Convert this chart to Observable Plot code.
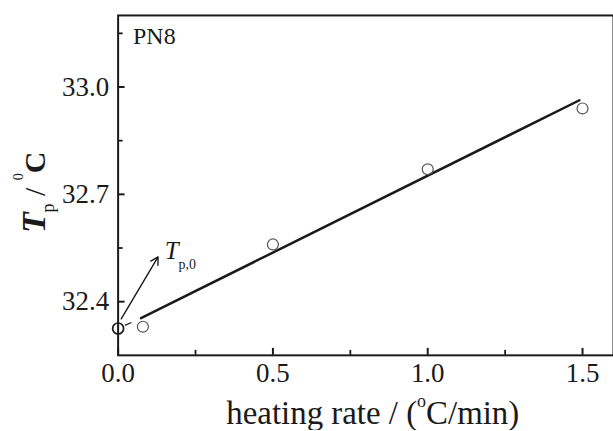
<!DOCTYPE html>
<html><head><meta charset="utf-8">
<script src="https://cdn.jsdelivr.net/npm/d3@7"></script>
<script src="https://cdn.jsdelivr.net/npm/@observablehq/plot@0.6"></script>
<style>
html,body{margin:0;padding:0;background:#fff;overflow:hidden;}
#chart{width:613px;height:431px;overflow:hidden;}
</style></head><body><div id="chart"></div>
<script>
// ---- data ----
const rates = [0.08, 0.5, 1.0, 1.5];            // heating rate (°C/min)
const peakTemps = [32.33, 32.56, 32.77, 32.94]; // Tp (°C)
const fitRates = [0.074, 1.49];                 // fitted line end points
const fitTemps = [32.354, 32.963];
const extrapRates = [0, 0.074];                 // dashed extrapolation
const extrapTemps = [32.325, 32.354];
const tp0Rates = [0];                           // extrapolated Tp,0
const tp0Temps = [32.325];
const arrowRates = [0.01, 0.129];               // annotation arrow
const arrowTemps = [32.352, 32.525];
const labelRate = 0.152, labelTemp = 32.519;    // "Tp,0" label anchor
const xMajorTicks = [0, 0.5, 1.0, 1.5];
const xMinorTicks = [0.25, 0.75, 1.25];
const yMajorTicks = [32.4, 32.7, 33.0];
const yMinorTicks = [32.55, 32.85, 33.15];
const xDomain = [0, 1.6];
const yDomain = [32.25, 33.2];
const sampleLabel = "PN8";

const points = rates.map((r, i) => ({r, t: peakTemps[i]}));
const fit = fitRates.map((r, i) => ({r, t: fitTemps[i]}));
const extrap = extrapRates.map((r, i) => ({r, t: extrapTemps[i]}));
const tp0 = tp0Rates.map((r, i) => ({r, t: tp0Temps[i]}));
const arrow = [{x1: arrowRates[0], y1: arrowTemps[0], x2: arrowRates[1], y2: arrowTemps[1]}];

const FONT = "'Liberation Serif','Times New Roman',serif";
const INK = "#1a1a1a";
const W = 615, H = 431, ML = 118, MR = 0, MT = 15, MB = 75;
const frameW = W - ML - MR, frameH = H - MT - MB;

const plot = Plot.plot({
  width: W, height: H,
  marginLeft: ML, marginRight: MR, marginTop: MT, marginBottom: MB,
  style: {fontFamily: FONT, fontSize: "27px", color: INK, background: "#fff"},
  x: {domain: xDomain},
  y: {domain: yDomain},
  marks: [
    // inward tick marks
    Plot.tickX(xMajorTicks, {x: d => d, insetTop: frameH - 7, stroke: INK, strokeWidth: 2}),
    Plot.tickX(xMinorTicks, {x: d => d, insetTop: frameH - 5, stroke: INK, strokeWidth: 1.8}),
    Plot.tickY(yMajorTicks, {y: d => d, insetRight: frameW - 7, stroke: INK, strokeWidth: 2}),
    Plot.tickY(yMinorTicks, {y: d => d, insetRight: frameW - 5, stroke: INK, strokeWidth: 1.8}),
    // tick labels
    Plot.axisX(xMajorTicks, {tickSize: 0, tickPadding: 8, tickFormat: d3.format(".1f"), label: null}),
    Plot.axisY(yMajorTicks, {tickSize: 0, tickPadding: 9, tickFormat: d3.format(".1f"), label: null}),
    Plot.line(extrap, {x: "r", y: "t", stroke: INK, strokeWidth: 1.3, strokeDasharray: "0,8,6,40"}),
    Plot.line(fit, {x: "r", y: "t", stroke: INK, strokeWidth: 2.5}),
    Plot.arrow(arrow, {x1: "x1", y1: "y1", x2: "x2", y2: "y2", stroke: INK, strokeWidth: 1.4, headLength: 9}),
    Plot.dot(points, {x: "r", y: "t", r: 5.5, stroke: "#555", strokeWidth: 1.2, fill: "none"}),
    Plot.dot(tp0, {x: "r", y: "t", r: 5.5, stroke: INK, strokeWidth: 1.7, fill: "none"}),
    Plot.text([sampleLabel], {frameAnchor: "top-left", dx: 15, dy: 12, textAnchor: "start", lineAnchor: "top", fontSize: 24, fill: INK}),
    Plot.frame({stroke: INK, strokeWidth: 2})
  ]
});
document.getElementById("chart").appendChild(plot);

const svg = d3.select(plot);
const sx = plot.scale("x").apply, sy = plot.scale("y").apply;

// Tp,0 annotation
const ann = svg.append("text")
  .attr("x", sx(labelRate)).attr("y", sy(labelTemp))
  .attr("text-anchor", "start")
  .attr("font-family", FONT).attr("fill", INK);
ann.append("tspan").attr("font-style", "italic").attr("font-size", 25).text("T");
ann.append("tspan").attr("font-size", 14).attr("dy", 10).text("p,0");

// x title
const xt = svg.append("text")
  .attr("x", 374).attr("y", 425).attr("text-anchor", "middle")
  .attr("font-family", FONT).attr("font-size", 33).attr("fill", INK);
xt.append("tspan").text("heating rate / (");
xt.append("tspan").attr("font-size", 18).attr("dy", -17).text("o");
xt.append("tspan").attr("dy", 17).text("C/min)");

// y title
const yt = svg.append("text")
  .attr("transform", "translate(45,193) rotate(-90)")
  .attr("text-anchor", "middle")
  .attr("font-family", FONT).attr("font-size", 30).attr("fill", INK);
yt.append("tspan").attr("font-style", "italic").attr("font-weight", "bold").attr("font-size", 34).text("T");
yt.append("tspan").attr("font-size", 18).attr("dy", 9).text("p");
yt.append("tspan").attr("dy", -9).text(" / ");
yt.append("tspan").attr("font-size", 14).attr("dy", -22).text("0");
yt.append("tspan").attr("font-weight", "bold").attr("dy", 22).text("C");
</script>
</body></html>
